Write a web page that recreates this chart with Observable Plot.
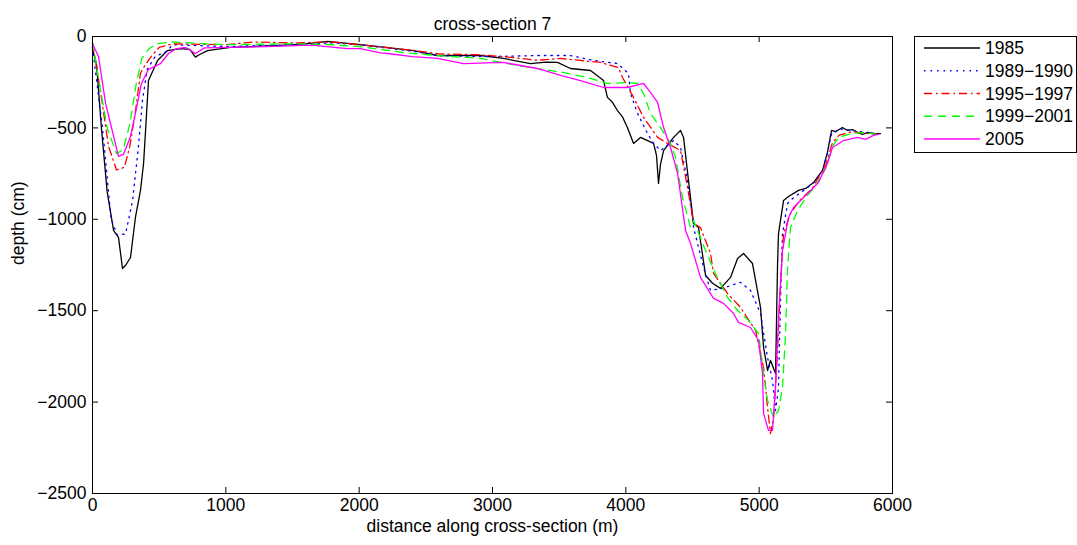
<!DOCTYPE html>
<html>
<head>
<meta charset="utf-8">
<script src="https://cdn.jsdelivr.net/npm/d3@7"></script>
<script src="https://cdn.jsdelivr.net/npm/@observablehq/plot@0.6"></script>
<style>
  html, body { margin: 0; padding: 0; background: #fff; }
  svg { display: block; }
</style>
</head>
<body>
<div id="chart"></div>
<script>
// ---- data (distance in m, depth in cm) ----
const x1985 = [0,30,68,110,158,195,225,250,285,322,360,383,398,420,488,562,660,730,772,800,862,1035,1200,1410,1600,1762,2010,2200,2408,2587,2737,2910,3082,3285,3400,3487,3585,3735,3833,3862,3900,3937,3975,4012,4058,4110,4208,4230,4245,4260,4283,4358,4410,4433,4470,4508,4545,4598,4650,4710,4785,4838,4883,4950,5010,5033,5063,5085,5123,5138,5145,5183,5220,5295,5348,5408,5475,5512,5543,5573,5625,5662,5700,5737,5775,5812,5873,5910];
const d1985 = [-70,-150,-510,-850,-1061,-1099,-1269,-1250,-1209,-990,-842,-695,-514,-241,-131,-77,-66,-70,-113,-100,-77,-60,-55,-49,-40,-27,-44,-60,-77,-104,-104,-104,-120,-148,-140,-142,-175,-186,-241,-333,-360,-405,-440,-498,-585,-552,-585,-650,-804,-700,-624,-552,-514,-552,-788,-1023,-1045,-1307,-1350,-1378,-1318,-1214,-1187,-1242,-1482,-1701,-1827,-1772,-1843,-1242,-1078,-897,-875,-842,-831,-799,-733,-634,-514,-520,-498,-514,-509,-525,-536,-525,-531,-531];

const x1989 = [0,75,140,185,248,300,345,375,410,470,560,600,1000,1500,1800,2000,2400,2600,3000,3337,3585,3758,3937,4020,4035,4088,4163,4208,4260,4358,4410,4463,4500,4508,4583,4635,4725,4860,4935,5010,5063,5100,5123,5145,5160,5175,5213,5260,5348,5408,5475,5512,5543,5625,5700,5800,5880];
const d1989 = [-60,-500,-1000,-1085,-1080,-900,-600,-350,-180,-110,-80,-45,-55,-45,-35,-45,-80,-105,-110,-104,-104,-131,-148,-202,-312,-421,-531,-585,-624,-569,-607,-788,-990,-1045,-1264,-1389,-1378,-1345,-1389,-1515,-1756,-1882,-2046,-1920,-1444,-1078,-914,-880,-835,-800,-735,-640,-530,-505,-515,-525,-535];

const x1995 = [0,60,120,180,240,280,320,360,400,440,500,600,1000,1200,1500,1800,2000,2400,2600,2900,3082,3337,3510,3660,3810,3945,3975,4058,4133,4238,4313,4410,4463,4508,4560,4635,4658,4763,4860,4973,5033,5063,5085,5108,5138,5160,5183,5235,5300,5400,5500,5550,5600,5700,5800,5880];
const d1995 = [-40,-300,-600,-730,-715,-600,-420,-200,-150,-110,-60,-40,-45,-30,-35,-30,-45,-75,-95,-100,-110,-130,-120,-131,-142,-170,-224,-333,-443,-552,-585,-624,-826,-1023,-1045,-1187,-1296,-1406,-1482,-1608,-1811,-2029,-2172,-2084,-1718,-1351,-1078,-968,-900,-830,-700,-580,-540,-520,-530,-535];

const x1999 = [0,50,110,180,230,280,330,370,420,480,600,1000,1500,1800,2000,2335,2600,2910,3200,3533,3712,3862,4012,4088,4133,4185,4260,4335,4373,4425,4485,4508,4598,4685,4763,4838,4920,4995,5033,5063,5108,5145,5175,5198,5213,5235,5288,5350,5420,5500,5550,5600,5700,5800,5880];
const d1999 = [-30,-250,-500,-640,-620,-480,-250,-120,-70,-40,-30,-45,-40,-45,-55,-88,-105,-120,-160,-197,-224,-257,-252,-257,-312,-421,-498,-585,-662,-881,-1045,-1007,-1170,-1318,-1427,-1499,-1553,-1625,-1843,-1991,-2084,-2046,-1920,-1625,-1264,-1045,-952,-880,-820,-720,-600,-550,-530,-525,-535];

const x2005 = [0,45,98,135,195,232,285,322,367,420,510,570,630,700,772,840,1035,1300,1583,1658,1912,2010,2160,2212,2400,2587,2782,3082,3337,3510,3660,3833,4012,4133,4185,4238,4283,4335,4388,4448,4485,4560,4658,4733,4808,4845,4935,4995,5025,5033,5070,5100,5123,5145,5175,5220,5258,5363,5445,5512,5550,5633,5737,5798,5858,5895];
const d2005 = [-40,-109,-366,-476,-656,-645,-547,-421,-257,-180,-148,-93,-66,-60,-93,-62,-60,-55,-49,-49,-66,-66,-90,-93,-110,-120,-148,-142,-175,-213,-241,-279,-279,-257,-306,-361,-498,-607,-749,-1061,-1132,-1318,-1433,-1460,-1515,-1564,-1592,-1663,-1843,-2062,-2155,-2155,-1920,-1537,-1170,-990,-935,-859,-799,-695,-607,-569,-552,-563,-541,-536];

const seriesNames = ["1985","1989\u22121990","1995\u22121997","1999\u22122001","2005"];
const seriesColors = ["#000000","#0000ff","#ff0000","#00ff00","#ff00ff"];
const seriesDash = [null,"1.5,5","8,4,1.5,4","8,6",null];
const xTicks = [0,1000,2000,3000,4000,5000,6000];
const yTicks = [0,-500,-1000,-1500,-2000,-2500];

const allX = [x1985,x1989,x1995,x1999,x2005];
const allD = [d1985,d1989,d1995,d1999,d2005];
const series = allX.map((xs,i) => xs.map((x,j) => ({x, d: allD[i][j], s: i})));

const W = 1077, H = 545;
const mL = 92, mR = 185, mT = 36, mB = 52;
const pw = W - mL - mR, ph = H - mT - mB;
const font = "'Liberation Sans', Arial, Helvetica, sans-serif";
const fs = 17.5;

const lineMarks = series.map((data,i) => Plot.line(data, {
  x: "x", y: "d", stroke: seriesColors[i], strokeWidth: 1.3,
  strokeDasharray: seriesDash[i] || undefined, strokeLinejoin: "round"
}));

const chart = Plot.plot({
  width: W, height: H,
  marginLeft: mL, marginRight: mR, marginTop: mT, marginBottom: mB,
  style: {fontFamily: font, fontSize: fs + "px", color: "#000", background: "#fff", overflow: "visible"},
  x: {domain: [0, 6000]},
  y: {domain: [-2500, 0]},
  marks: [
    ...lineMarks,
    Plot.frame({stroke: "#000", strokeWidth: 1}),
    Plot.tickX(xTicks, {x: d => d, insetTop: ph - 6, stroke: "#000"}),
    Plot.tickX(xTicks, {x: d => d, insetBottom: ph - 6, stroke: "#000"}),
    Plot.tickY(yTicks, {y: d => d, insetRight: pw - 6, stroke: "#000"}),
    Plot.tickY(yTicks, {y: d => d, insetLeft: pw - 6, stroke: "#000"}),
    Plot.axisX(xTicks, {tickSize: 0, tickPadding: 5, tickFormat: d => d3.format("")(d), label: null, fontSize: fs}),
    Plot.axisY(yTicks, {tickSize: 0, tickPadding: 6, tickFormat: d => d3.format("")(d), label: null, fontSize: fs}),
    Plot.text(["distance along cross-section (m)"], {frameAnchor: "bottom", dy: 38, text: d => d, fontSize: fs}),
    Plot.text(["depth (cm)"], {frameAnchor: "left", dx: -74, rotate: -90, text: d => d, fontSize: fs}),
    Plot.text(["cross-section 7"], {frameAnchor: "top", dy: -19, text: d => d, fontSize: fs})
  ]
});

// legend box drawn into the same svg
const svg = d3.select(chart);
const lg = svg.append("g").attr("font-family", font).attr("font-size", fs).attr("text-anchor", "start");
lg.append("rect").attr("x", 914.5).attr("y", 36.5).attr("width", 162).attr("height", 116)
  .attr("fill", "#fff").attr("stroke", "#000").attr("stroke-width", 1);
seriesNames.forEach((name, i) => {
  const yy = 48 + i * 22.75;
  lg.append("line").attr("x1", 924).attr("x2", 980).attr("y1", yy).attr("y2", yy)
    .attr("stroke", seriesColors[i]).attr("stroke-width", 1.3)
    .attr("stroke-dasharray", seriesDash[i]);
  lg.append("text").attr("x", 985).attr("y", yy).attr("dy", "0.35em")
    .attr("text-anchor", "start").attr("fill", "#000").text(name);
});

document.getElementById("chart").appendChild(chart);
</script>
</body>
</html>
